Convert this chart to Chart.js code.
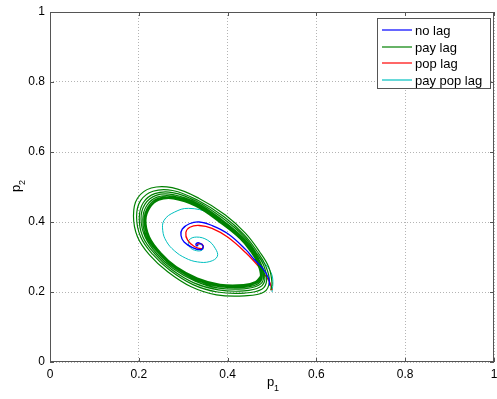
<!DOCTYPE html>
<html>
<head>
<meta charset="utf-8">
<script src="https://cdn.jsdelivr.net/npm/chart.js@4"></script>
<style>
  html, body { margin: 0; padding: 0; background: #fff; }
  #wrap { width: 497px; height: 399px; }
</style>
</head>
<body>
<div id="wrap"><canvas id="c"></canvas></div>
<script>
// ---- data ----
const seriesNames = ["no lag", "pay lag", "pop lag", "pay pop lag"];
const seriesColors = ["#0000ff", "#008000", "#ff0000", "#00bfbf"];
const axisTicks = [0, 0.2, 0.4, 0.6, 0.8, 1];
const axisTickLabels = ["0", "0.2", "0.4", "0.6", "0.8", "1"];

// [p1, p2]
const noLag = [
  [0.495, 0.218], [0.492, 0.240], [0.480, 0.266], [0.460, 0.293], [0.441, 0.321],
  [0.400, 0.367], [0.365, 0.390], [0.336, 0.400], [0.314, 0.395], [0.298, 0.380],
  [0.295, 0.362], [0.302, 0.343], [0.321, 0.327], [0.340, 0.321], [0.345, 0.331],
  [0.337, 0.340], [0.329, 0.338], [0.330, 0.332], [0.334, 0.333]
];

// limit cycle, outer loop first, settling on the inner one
const payLag = [
  [0.497, 0.205],
  [0.500, 0.225], [0.493, 0.270], [0.472, 0.315], [0.440, 0.368], [0.395, 0.420], [0.335, 0.468],
  [0.275, 0.498], [0.228, 0.497], [0.197, 0.468], [0.188, 0.418], [0.197, 0.358], [0.224, 0.306],
  [0.265, 0.258], [0.318, 0.215], [0.375, 0.192], [0.438, 0.189], [0.482, 0.200],
  [0.494, 0.230], [0.486, 0.274], [0.467, 0.315], [0.437, 0.364], [0.392, 0.415], [0.333, 0.462],
  [0.276, 0.490], [0.232, 0.488], [0.204, 0.461], [0.195, 0.415], [0.204, 0.358], [0.231, 0.308],
  [0.270, 0.262], [0.322, 0.221], [0.377, 0.200], [0.438, 0.197], [0.477, 0.208],
  [0.488, 0.234], [0.481, 0.277], [0.463, 0.315], [0.435, 0.361], [0.390, 0.410], [0.332, 0.458],
  [0.276, 0.484], [0.236, 0.481], [0.210, 0.455], [0.201, 0.412], [0.209, 0.358], [0.236, 0.309],
  [0.274, 0.264], [0.324, 0.226], [0.379, 0.206], [0.437, 0.203], [0.473, 0.214],
  [0.484, 0.237], [0.476, 0.279], [0.460, 0.315], [0.433, 0.358], [0.388, 0.406], [0.331, 0.454],
  [0.277, 0.478], [0.239, 0.476], [0.214, 0.451], [0.205, 0.410], [0.214, 0.358], [0.240, 0.310],
  [0.277, 0.267], [0.327, 0.231], [0.380, 0.211], [0.437, 0.209], [0.470, 0.219],
  [0.481, 0.240], [0.473, 0.281], [0.457, 0.315], [0.431, 0.356], [0.386, 0.404], [0.330, 0.451],
  [0.277, 0.474], [0.241, 0.471], [0.218, 0.447], [0.209, 0.408], [0.217, 0.358], [0.244, 0.311],
  [0.280, 0.269], [0.329, 0.234], [0.381, 0.215], [0.437, 0.213], [0.468, 0.223],
  [0.478, 0.242], [0.470, 0.283], [0.455, 0.315], [0.430, 0.354], [0.385, 0.401], [0.329, 0.448],
  [0.278, 0.471], [0.242, 0.467], [0.221, 0.444], [0.212, 0.407], [0.220, 0.358], [0.246, 0.311],
  [0.282, 0.270], [0.330, 0.236], [0.382, 0.218], [0.436, 0.216], [0.466, 0.226],
  [0.476, 0.243], [0.468, 0.284], [0.454, 0.315], [0.429, 0.353], [0.384, 0.400], [0.329, 0.447],
  [0.278, 0.469], [0.244, 0.465], [0.223, 0.442], [0.214, 0.406], [0.222, 0.358], [0.248, 0.312],
  [0.283, 0.271], [0.331, 0.238], [0.382, 0.220], [0.436, 0.218], [0.465, 0.228],
  [0.475, 0.244], [0.467, 0.285], [0.453, 0.315], [0.428, 0.352], [0.383, 0.399], [0.328, 0.446],
  [0.278, 0.467], [0.244, 0.463], [0.224, 0.441], [0.215, 0.405], [0.223, 0.358], [0.249, 0.312],
  [0.284, 0.272], [0.332, 0.239], [0.383, 0.221], [0.436, 0.220], [0.464, 0.229],
  [0.474, 0.245], [0.466, 0.285], [0.452, 0.315], [0.428, 0.352], [0.383, 0.398], [0.328, 0.445],
  [0.278, 0.466], [0.245, 0.462], [0.225, 0.440], [0.216, 0.405], [0.224, 0.358], [0.250, 0.312],
  [0.285, 0.272], [0.332, 0.240], [0.383, 0.222], [0.436, 0.221], [0.463, 0.230], [0.474, 0.245]
];

const popLag = [
  [0.500, 0.205], [0.495, 0.228], [0.488, 0.242], [0.471, 0.271], [0.441, 0.312],
  [0.400, 0.357], [0.365, 0.382], [0.336, 0.390], [0.315, 0.385], [0.306, 0.370],
  [0.310, 0.348], [0.325, 0.330], [0.342, 0.324], [0.345, 0.332], [0.338, 0.338],
  [0.331, 0.335], [0.333, 0.333]
];

const payPopLag = [
  [0.500, 0.200], [0.502, 0.230], [0.498, 0.255], [0.485, 0.280], [0.464, 0.305],
  [0.435, 0.345], [0.404, 0.385], [0.360, 0.425], [0.312, 0.439], [0.280, 0.428],
  [0.257, 0.405], [0.254, 0.375], [0.262, 0.345], [0.280, 0.318], [0.305, 0.297],
  [0.332, 0.286], [0.360, 0.287], [0.377, 0.302], [0.372, 0.325], [0.355, 0.348],
  [0.330, 0.357], [0.313, 0.348], [0.315, 0.328], [0.330, 0.318], [0.343, 0.320],
  [0.345, 0.330], [0.337, 0.336], [0.331, 0.333]
];

const seriesData = [noLag, payLag, popLag, payPopLag];
const seriesWidths = [1.3, 1.2, 1.3, 1];

// tick label lookup (avoids "1.0")
function tickText(v) {
  const i = axisTicks.findIndex(t => Math.abs(t - v) < 1e-6);
  return i >= 0 ? axisTickLabels[i] : "";
}

// ---- frame, inward ticks, axis titles and legend ----
const matlabDecor = {
  id: "matlabDecor",
  afterDraw(chart) {
    const { ctx, chartArea: a, scales } = chart;
    ctx.save();
    ctx.strokeStyle = "#555";
    ctx.lineWidth = 1;
    ctx.strokeRect(a.left + 0.5, a.top + 0.5, a.right - a.left - 1, a.bottom - a.top - 1);
    ctx.beginPath();
    axisTicks.forEach(v => {
      const x = Math.round(scales.x.getPixelForValue(v)) + 0.5;
      const y = Math.round(scales.y.getPixelForValue(v)) + 0.5;
      ctx.moveTo(x, a.bottom); ctx.lineTo(x, a.bottom - 4);
      ctx.moveTo(x, a.top); ctx.lineTo(x, a.top + 4);
      ctx.moveTo(a.left, y); ctx.lineTo(a.left + 4, y);
      ctx.moveTo(a.right, y); ctx.lineTo(a.right - 4, y);
    });
    ctx.stroke();

    // axis titles p1 / p2
    ctx.fillStyle = "#000";
    ctx.textAlign = "left";
    ctx.textBaseline = "alphabetic";
    const cx = (a.left + a.right) / 2;
    ctx.font = "13px 'Liberation Sans', Arial, sans-serif";
    ctx.fillText("p", cx - 5, 386);
    ctx.font = "9px 'Liberation Sans', Arial, sans-serif";
    ctx.fillText("1", cx + 2, 391);

    ctx.save();
    ctx.translate(20, (a.top + a.bottom) / 2 + 5);
    ctx.rotate(-Math.PI / 2);
    ctx.font = "13px 'Liberation Sans', Arial, sans-serif";
    ctx.fillText("p", 0, 0);
    ctx.font = "9px 'Liberation Sans', Arial, sans-serif";
    ctx.fillText("2", 7, 5);
    ctx.restore();

    // legend box
    const lx = 377, ly = 18, lw = 113, lh = 70;
    ctx.fillStyle = "#fff";
    ctx.fillRect(lx, ly, lw, lh);
    ctx.strokeStyle = "#555";
    ctx.strokeRect(lx + 0.5, ly + 0.5, lw, lh);
    ctx.font = "13px 'Liberation Sans', Arial, sans-serif";
    ctx.textBaseline = "middle";
    seriesNames.forEach((name, i) => {
      const yy = Math.round(30 + i * 16.7);
      ctx.strokeStyle = seriesColors[i];
      ctx.lineWidth = 1.2;
      ctx.beginPath();
      ctx.moveTo(382, yy);
      ctx.lineTo(412, yy);
      ctx.stroke();
      ctx.fillStyle = "#000";
      ctx.fillText(name, 415, yy + 1);
    });
    ctx.restore();
  }
};

const tickFont = { family: "'Liberation Sans', Arial, sans-serif", size: 12 };

new Chart(document.getElementById("c"), {
  type: "scatter",
  data: {
    datasets: seriesNames.map((name, i) => ({
      label: name,
      data: seriesData[i].map(p => ({ x: p[0], y: p[1] })),
      showLine: true,
      borderColor: seriesColors[i],
      backgroundColor: seriesColors[i],
      borderWidth: seriesWidths[i],
      pointRadius: 0,
      tension: 0.4,
      fill: false
    }))
  },
  options: {
    responsive: true,
    maintainAspectRatio: false,
    animation: false,
    layout: { padding: { top: 12, right: 3, left: 0, bottom: 0 } },
    plugins: { legend: { display: false }, tooltip: { enabled: false } },
    scales: {
      x: {
        type: "linear", min: 0, max: 1,
        ticks: { stepSize: 0.2, color: "#000", font: tickFont, padding: 5, maxRotation: 0, callback: tickText },
        grid: { color: "#b4b4b4", drawTicks: false },
        border: { display: false, dash: [1, 2] },
        afterFit: s => { s.height = 37; s.paddingLeft = 0; s.paddingRight = 0; }
      },
      y: {
        type: "linear", min: 0, max: 1,
        ticks: { stepSize: 0.2, color: "#000", font: tickFont, padding: 5, callback: tickText },
        grid: { color: "#b4b4b4", drawTicks: false },
        border: { display: false, dash: [1, 2] },
        afterFit: s => { s.width = 50; s.paddingTop = 0; s.paddingBottom = 0; }
      }
    }
  },
  plugins: [matlabDecor]
});
</script>
</body>
</html>
